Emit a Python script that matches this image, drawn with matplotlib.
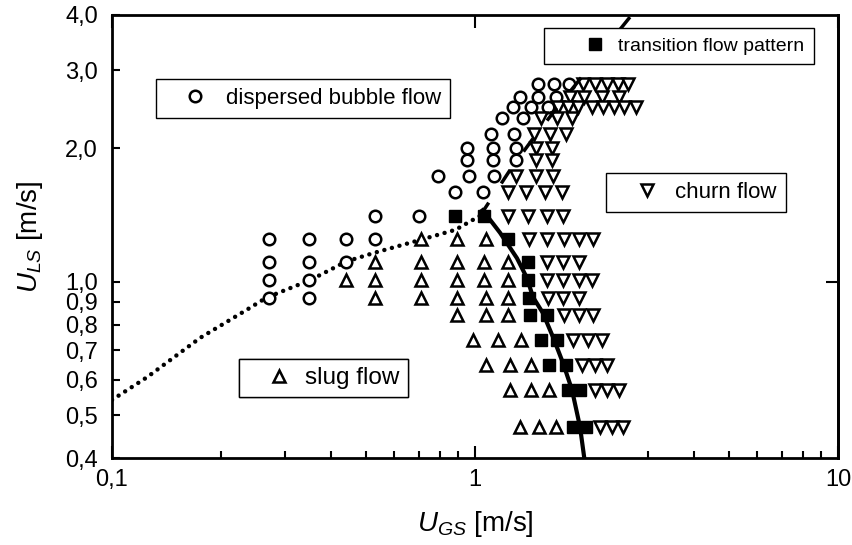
import numpy as np
import matplotlib.pyplot as plt
from matplotlib.lines import Line2D
from matplotlib.ticker import NullLocator

plt.rcParams['font.family'] = ['Liberation Sans', 'DejaVu Sans']
plt.rcParams['mathtext.fontset'] = 'custom'
plt.rcParams['mathtext.rm'] = 'Liberation Sans'
plt.rcParams['mathtext.it'] = 'Liberation Sans:italic'

# observed flow patterns, one row per liquid velocity: (U_LS, [U_GS, ...])
bubble_rows = [
    (2.79, [1.49, 1.65, 1.81]),
    (2.61, [1.33, 1.49, 1.67]),
    (2.48, [1.27, 1.43, 1.59]),
    (2.34, [1.19, 1.36]),
    (2.16, [1.11, 1.28]),
    (2.00, [0.95, 1.12, 1.30]),
    (1.88, [0.95, 1.12, 1.30]),
    (1.73, [0.79, 0.96, 1.13]),
    (1.59, [0.88, 1.05]),
    (1.41, [0.53, 0.70]),
    (1.25, [0.27, 0.35, 0.44, 0.53]),
    (1.11, [0.27, 0.35, 0.44]),
    (1.01, [0.27, 0.35]),
    (0.92, [0.27, 0.35]),
]
slug_rows = [
    (1.25, [0.71, 0.89, 1.07]),
    (1.11, [0.53, 0.71, 0.89, 1.06, 1.23]),
    (1.01, [0.44, 0.53, 0.71, 0.89, 1.06, 1.23]),
    (0.92, [0.53, 0.71, 0.89, 1.07, 1.23]),
    (0.84, [0.89, 1.07, 1.23]),
    (0.74, [0.99, 1.16, 1.34]),
    (0.65, [1.07, 1.25, 1.43]),
    (0.57, [1.25, 1.43, 1.60]),
    (0.47, [1.33, 1.50, 1.67]),
]
churn_rows = [
    (2.79, [1.98, 2.14, 2.31, 2.48, 2.64]),
    (2.61, [1.83, 2.00, 2.24, 2.49]),
    (2.48, [1.69, 1.80, 1.92, 2.10, 2.25, 2.42, 2.57, 2.78]),
    (2.34, [1.52, 1.68, 1.85]),
    (2.16, [1.45, 1.61, 1.78]),
    (2.00, [1.47, 1.63]),
    (1.88, [1.47, 1.63]),
    (1.73, [1.30, 1.47, 1.64]),
    (1.59, [1.23, 1.38, 1.56, 1.74]),
    (1.41, [1.23, 1.40, 1.58, 1.75]),
    (1.25, [1.41, 1.58, 1.76, 1.93, 2.11]),
    (1.11, [1.58, 1.75, 1.93]),
    (1.01, [1.58, 1.75, 1.93, 2.10]),
    (0.92, [1.59, 1.75, 1.93]),
    (0.84, [1.76, 1.93, 2.11]),
    (0.74, [1.86, 2.05, 2.24]),
    (0.65, [1.97, 2.14, 2.31]),
    (0.57, [2.14, 2.31, 2.49]),
    (0.47, [2.21, 2.38, 2.56]),
]
trans_rows = [
    (1.41, [0.88, 1.06]),
    (1.25, [1.23]),
    (1.11, [1.40]),
    (1.01, [1.40]),
    (0.92, [1.41]),
    (0.84, [1.42, 1.58]),
    (0.74, [1.52, 1.68]),
    (0.65, [1.60, 1.78]),
    (0.57, [1.80, 1.95]),
    (0.47, [1.86, 2.02]),
]

# transition boundaries
dotted_ugs = [0.1, 0.125, 0.175, 0.235, 0.266, 0.353, 0.441, 0.524, 0.70, 0.884, 1.05]
dotted_uls = [0.541, 0.609, 0.747, 0.864, 0.92, 1.01, 1.11, 1.16, 1.24, 1.31, 1.42]
solid_ugs = [1.05, 1.172, 1.305, 1.39, 1.445, 1.538, 1.64, 1.748, 1.85, 1.947, 2.0]
solid_uls = [1.45, 1.29, 1.13, 1.02, 0.923, 0.85, 0.75, 0.655, 0.57, 0.47, 0.40]
dashed_ugs = [1.032, 1.249, 1.436, 1.682, 2.01, 2.78]
dashed_uls = [1.407, 1.787, 2.09, 2.47, 2.96, 4.12]

yticks = [0.4, 0.5, 0.6, 0.7, 0.8, 0.9, 1.0, 2.0, 3.0, 4.0]
ylabels = ['0,4', '0,5', '0,6', '0,7', '0,8', '0,9', '1,0', '2,0', '3,0', '4,0']
xticks = [0.1, 1, 10]
xlabels = ['0,1', '1', '10']
xminor = [0.2, 0.3, 0.4, 0.5, 0.6, 0.7, 0.8, 0.9, 2, 3, 4, 5, 6, 7, 8, 9]


def flat(rows):
    x = [g for l, gs in rows for g in gs]
    y = [l for l, gs in rows for g in gs]
    return x, y


fig = plt.figure(figsize=(8.53, 5.45), dpi=100)
ax = fig.add_axes([112/853, 87/545, 726/853, 443/545])
ax.set_xscale('log')
ax.set_yscale('log')
ax.set_xlim(0.1, 10)
ax.set_ylim(0.4, 4.0)

bubble = dict(marker='o', ms=8.3, mfc='white', mec='black', mew=1.8)
slug = dict(marker='^', ms=9, mfc='white', mec='black', mew=1.8)
churn = dict(marker='v', ms=9, mfc='white', mec='black', mew=1.8)
trans = dict(marker='s', ms=8.3, mfc='black', mec='black', mew=1)

for rows, st in [(bubble_rows, bubble), (slug_rows, slug), (churn_rows, churn), (trans_rows, trans)]:
    x, y = flat(rows)
    ax.plot(x, y, linestyle='none', zorder=3, **st)

ax.plot(dotted_ugs, dotted_uls, color='black', lw=3.2, linestyle=(0, (0.01, 1.75)),
        dash_capstyle='round', zorder=2)
ax.plot(solid_ugs, solid_uls, color='black', lw=3, zorder=4)
ax.plot(dashed_ugs, dashed_uls, color='black', lw=2.5, linestyle=(0, (4.6, 6.6)),
        zorder=4, clip_on=False)


def box(st, label, x0, y0, fs, hl, htp, pad):
    h = Line2D([], [], linestyle='none', **st)
    leg = ax.legend([h], [label], loc='upper left', bbox_to_anchor=(x0, y0),
                    borderaxespad=0, fontsize=fs, handlelength=hl, handletextpad=htp,
                    borderpad=pad, fancybox=False, edgecolor='black', framealpha=1,
                    numpoints=1)
    leg.get_frame().set_linewidth(1.0)
    leg.set_zorder(6)
    ax.add_artist(leg)


box(bubble, 'dispersed bubble flow', 0.0606, 0.8555, 16, 2.68, 0.05, 0.41)
box(trans, 'transition flow pattern', 0.595, 0.9707, 14, 4.32, -0.97, 0.47)
box(churn, 'churn flow', 0.680, 0.6433, 16, 2.86, -0.13, 0.41)
box(slug, 'slug flow', 0.175, 0.2235, 17.5, 2.6, -0.2, 0.33)

for s in ax.spines.values():
    s.set_linewidth(2)

ax.set_yticks(yticks, ylabels)
ax.yaxis.set_minor_locator(NullLocator())
ax.set_xticks(xticks, xlabels)
ax.set_xticks(xminor, minor=True)
ax.xaxis.set_minor_formatter(plt.NullFormatter())
ax.tick_params(axis='both', which='both', direction='in', width=1.5, labelsize=17)
ax.tick_params(axis='y', which='major', length=6, pad=10)
ax.tick_params(axis='x', which='major', length=9, pad=8, top=True)
ax.tick_params(axis='x', which='minor', length=5, top=False)

sec = ax.secondary_yaxis('right')
sec.set_yticks([1.0], [''])
sec.yaxis.set_minor_locator(NullLocator())
sec.tick_params(direction='in', length=9, width=1.5)
sec.spines['right'].set_linewidth(2)

ax.set_xlabel(r'$U_{GS}$ [m/s]', fontsize=20)
ax.set_ylabel(r'$U_{LS}$ [m/s]', fontsize=20)
ax.xaxis.set_label_coords(0.5, -0.115)
ax.yaxis.set_label_coords(-0.092, 0.5)

fig.savefig('out.png', dpi=100)
